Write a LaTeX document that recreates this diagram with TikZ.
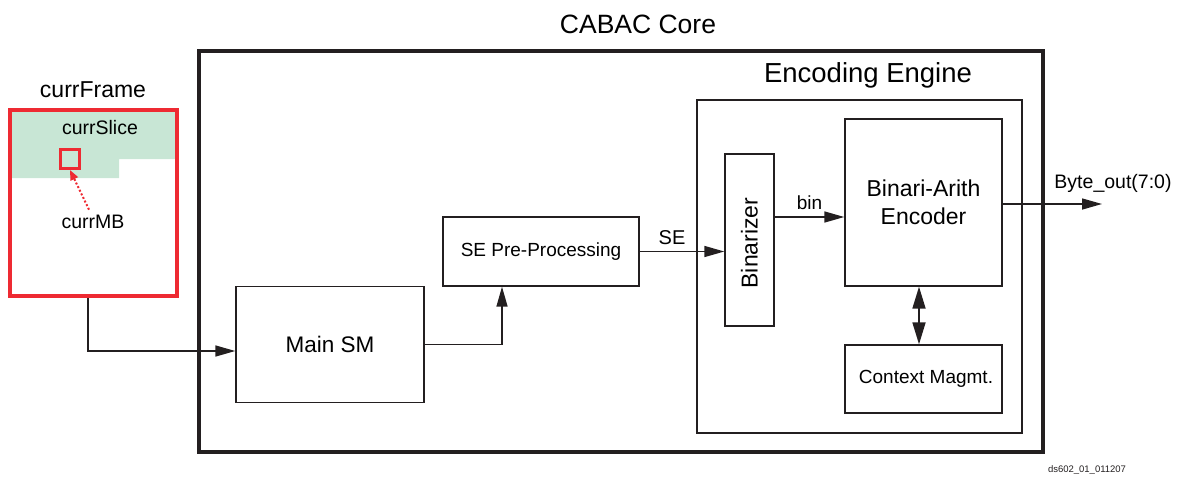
\documentclass[tikz,border=0pt]{standalone}
\usepackage{fontspec}
\setmainfont{Liberation Sans}
\usepackage{xcolor}
\usetikzlibrary{arrows.meta,calc,positioning}
\definecolor{framered}{HTML}{EE2A32}
\definecolor{slicegreen}{HTML}{C8E6D5}
\definecolor{linegray}{HTML}{231F20}
\tikzset{
	blockbox/.style={draw=linegray,line width=1.4pt,inner sep=0pt,align=center},
	arr/.style={draw=linegray,line width=1.5pt,-{Triangle[length=20pt,width=11pt]}},
	dblarr/.style={draw=linegray,line width=1.8pt,{Triangle[length=22pt,width=13pt]}-{Triangle[length=22pt,width=13pt]}}
}
\begin{document}
\begin{tikzpicture}[x=1pt,y=-1pt]
	\useasboundingbox (0,0) rectangle (1182,479);
	% core and engine frames
	\node[draw=linegray,line width=4pt,minimum width=844pt,minimum height=401pt] (core) at (621,251.5) {};
	\node[font=\fontsize{26.5}{30}\selectfont] (coretitle) at (638,24) {CABAC Core};
	\node[draw=linegray,line width=2pt,minimum width=325pt,minimum height=333pt] (engine) at (859.5,266.5) {};
	\node[font=\fontsize{27.5}{31}\selectfont] (enginetitle) at (868,75) {Encoding Engine};
	% blocks
	\node[blockbox,minimum width=188pt,minimum height=116pt,font=\fontsize{22.5}{26}\selectfont] (mainsm) at (330,344.5) {Main SM};
	\node[blockbox,minimum width=196pt,minimum height=69pt,font=\fontsize{19}{22}\selectfont] (sepre) at (541,251.5) {SE Pre-Processing};
	\node[blockbox,minimum width=49pt,minimum height=172pt] (binarizer) at (749.5,240) {};
	\node[rotate=90,font=\fontsize{23}{26}\selectfont] (binlabel) at (749.5,243) {Binarizer};
	\node[blockbox,minimum width=157pt,minimum height=167pt,font=\fontsize{23}{28}\selectfont] (arith) at (923.5,202.5) {Binari-Arith\\Encoder};
	\node[blockbox,minimum width=157pt,minimum height=68pt,font=\fontsize{19}{22}\selectfont] (ctx) at (923.5,379) {\hspace{5pt}Context Magmt.};
	% current frame
	\fill[slicegreen] (11,111) -- (176,111) -- (176,159) -- (119,159) -- (119,178) -- (11,178) -- cycle;
	\node[draw=framered,line width=4pt,minimum width=167pt,minimum height=186pt] (frame) at (93.5,203) {};
	\node[font=\fontsize{23}{26}\selectfont] (frametitle) at (93,90) {currFrame};
	\node[font=\fontsize{19.5}{22}\selectfont] (slicelabel) at (100,128) {currSlice};
	\node[draw=framered,line width=3pt,minimum width=19pt,minimum height=19pt] (mb) at (70,159) {};
	\node[font=\fontsize{19.5}{22}\selectfont] (mblabel) at (93,222) {currMB};
	\draw[framered,line width=2pt,dotted,-{Triangle[length=10pt,width=8pt]}] ([xshift=-4pt,yshift=2pt]mblabel.north) -- (mb.south);
	% connections
	\draw[arr] ([xshift=-5.5pt]frame.south) |- ([yshift=-6.5pt]mainsm.west);
	\draw[arr] (mainsm.east) -| ([xshift=-39pt]sepre.south);
	\draw[arr] (sepre.east) -- node[above=3pt,xshift=-10pt,font=\fontsize{20}{22}\selectfont] {SE} (sepre.east -| binarizer.west);
	\draw[arr] ([yshift=23pt]binarizer.east) -- node[above=3pt,font=\fontsize{19}{22}\selectfont] {bin} ([yshift=23pt]binarizer.east -| arith.west);
	\coordinate (byteend) at (1102,204);
	\draw[arr] (arith.east |- byteend) -- (byteend);
	\node[font=\fontsize{19.5}{22}\selectfont] (bytelabel) at (1113,183) {Byte\_out(7:0)};
	\draw[dblarr] ([xshift=-4.5pt]arith.south) -- ([xshift=-4.5pt]ctx.north);
	\node[font=\fontsize{9.5}{11}\selectfont,text=linegray] (figid) at (1087,470) {ds602\_01\_011207};
\end{tikzpicture}
\end{document}
